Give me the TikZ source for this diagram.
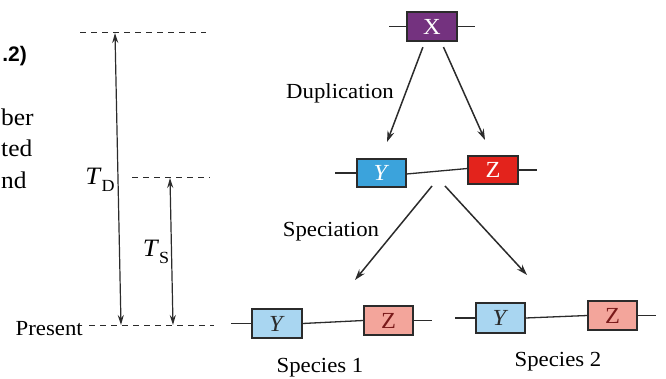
\documentclass[tikz,border=0pt]{standalone}
\usepackage{fontspec}
\setmainfont{Liberation Serif}[FakeStretch=1.06]
\newfontfamily\headsans{Liberation Sans}
\usetikzlibrary{arrows.meta}

\definecolor{inkline}{HTML}{2B2B2B}
\definecolor{genepurple}{HTML}{74327F}
\definecolor{geneblue}{HTML}{3BA3DC}
\definecolor{genered}{HTML}{E3231C}
\definecolor{paleblue}{HTML}{A9D6F1}
\definecolor{palered}{HTML}{F3A59B}
\definecolor{darkred}{HTML}{7A1A1A}

\tikzset{
  lbl/.style={inner sep=0pt, font=\fontsize{21.5}{25}\selectfont},
  body/.style={inner sep=0pt, font=\fontsize{24}{28}\selectfont},
  gene/.style={draw=inkline, line width=1.1pt, minimum width=49pt, minimum height=28pt,
    inner sep=0pt, font=\fontsize{23}{26}\selectfont},
  chrom/.style={draw=inkline, line width=1.3pt},
  timeline/.style={draw=inkline, line width=1pt, dash pattern=on 6pt off 5pt},
  arr/.style={draw=inkline, line width=1.5pt, -{Stealth[length=11pt,width=7pt]}},
  tarr/.style={draw=inkline, line width=1.2pt, {Stealth[length=10pt,width=6pt]}-{Stealth[length=10pt,width=6pt]}},
}

\begin{document}
\begin{tikzpicture}[x=1pt,y=-1pt]
\useasboundingbox (0,0) rectangle (666,379);

% running text at the page edge
\node[inner sep=0pt, anchor=base east, font=\headsans\bfseries\fontsize{21}{24}\selectfont] (eq) at (27,62) {.2)};
\node[body, anchor=base west] (w1) at (1,126) {ber};
\node[body, anchor=base west] (w2) at (1,157) {ted};
\node[body, anchor=base west] (w3) at (1,189) {nd};

% time axis
\coordinate (dupA) at (80,33);
\coordinate (dupB) at (206,33);
\coordinate (spA) at (132,178);
\coordinate (spB) at (210,178);
\coordinate (nowA) at (89,325);
\coordinate (nowB) at (214,325);
\draw[timeline] (dupA) -- (dupB);
\draw[timeline] (spA) -- (spB);
\draw[timeline] (nowA) -- (nowB);
\node[lbl, anchor=base east] (present) at (83,335) {Present};

\coordinate (tdTop) at (115,33);
\coordinate (tdBot) at (121,325);
\coordinate (tsTop) at (170,178);
\coordinate (tsBot) at (173,325);
\draw[tarr] (tdTop) -- (tdBot);
\draw[tarr] (tsTop) -- (tsBot);
\node[lbl, font=\fontsize{25}{28}\selectfont] (td) at (100,180) {\textit{T}\raisebox{-0.3em}{\fontsize{17}{19}\selectfont D}};
\node[lbl, font=\fontsize{25}{28}\selectfont] (ts) at (156,252) {\textit{T}\raisebox{-0.3em}{\fontsize{17}{19}\selectfont S}};

% ancestral gene
\node[gene, fill=genepurple, text=white, minimum width=50pt, minimum height=29pt] (X) at (432,26.5) {X};
\coordinate (xl) at (389,26.5);
\coordinate (xr) at (475,26.5);
\draw[chrom] (xl) -- (X.west);
\draw[chrom] (X.east) -- (xr);

% duplicated genes
\node[gene, fill=geneblue, text=white] (Y0) at (381.5,173) {\textit{Y}};
\node[gene, fill=genered, text=white, minimum width=50pt] (Z0) at (493,170) {Z};
\coordinate (y0l) at (335,173);
\coordinate (z0r) at (537,170);
\draw[chrom] (y0l) -- (Y0.west);
\draw[chrom] ([yshift=-1pt]Y0.east) -- ([yshift=1.5pt]Z0.west);
\draw[chrom] (Z0.east) -- (z0r);

\coordinate (dupL) at (387,142);
\coordinate (dupR) at (485,140);
\draw[arr, shorten <=6pt] ([xshift=-7pt]X.south) -- (dupL);
\draw[arr, shorten <=6pt] ([xshift=9pt]X.south) -- (dupR);
\node[lbl] (duplab) at (340,93) {Duplication};

% species 1
\node[gene, fill=paleblue, text=inkline, minimum width=50pt, minimum height=29pt] (Y1) at (277,323.5) {\textit{Y}};
\node[gene, fill=palered, text=darkred, minimum width=49pt, minimum height=29pt] (Z1) at (388.5,320.5) {Z};
\coordinate (y1l) at (231,323.5);
\coordinate (z1r) at (432,320.5);
\draw[chrom] (y1l) -- (Y1.west);
\draw[chrom] (Y1.east) -- (Z1.west);
\draw[chrom] (Z1.east) -- (z1r);
\node[lbl] (sp1) at (320,368) {Species 1};

% species 2
\node[gene, fill=paleblue, text=inkline, minimum width=49pt, minimum height=30pt] (Y2) at (500.5,318) {\textit{Y}};
\node[gene, fill=palered, text=darkred, minimum width=49pt, minimum height=29pt] (Z2) at (612.5,315.5) {Z};
\coordinate (y2l) at (455,318);
\coordinate (z2r) at (656,315.5);
\draw[chrom] (y2l) -- (Y2.west);
\draw[chrom] (Y2.east) -- (Z2.west);
\draw[chrom] (Z2.east) -- (z2r);
\node[lbl] (sp2) at (558,362) {Species 2};

% speciation, starting just below the chromosome between Y and Z
\coordinate (spSrcL) at (432,186);
\coordinate (spSrcR) at (445,186);
\coordinate (spL) at (355,280);
\coordinate (spR) at (527,275);
\draw[arr] (spSrcL) -- (spL);
\draw[arr] (spSrcR) -- (spR);
\node[lbl] (splab) at (331,232) {Speciation};
\end{tikzpicture}
\end{document}
